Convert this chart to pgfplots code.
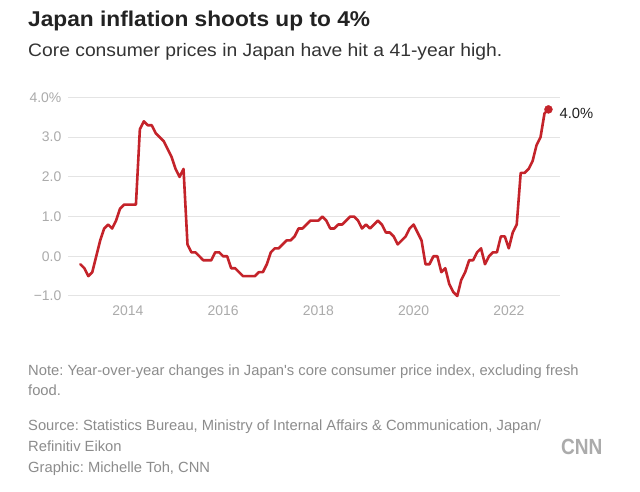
\documentclass[border=0pt]{standalone}
\usepackage{fontspec}
\setmainfont{Liberation Sans}
\newfontfamily\titlefont[FakeStretch=1.06]{Liberation Sans}
\newfontfamily\subfont[FakeStretch=1.07]{Liberation Sans}
\newfontfamily\notefont[FakeStretch=1.0]{Liberation Sans}
\newfontfamily\logofont[FakeStretch=0.87]{Liberation Sans}
\usepackage{pgfplots}
\usepackage{pgfplotstable}
\pgfplotsset{compat=1.18}
\definecolor{cnnred}{HTML}{C4232A}
\definecolor{tickgray}{HTML}{ABABAB}
\definecolor{notegray}{HTML}{8C8C8C}
\definecolor{gridgray}{HTML}{E4E4E4}
\definecolor{titlecol}{HTML}{222222}
\definecolor{subcol}{HTML}{333333}
\frenchspacing

\pgfplotstableread{
x y
2013.0000 -0.2
2013.0833 -0.3
2013.1667 -0.5
2013.2500 -0.4
2013.3333 0.0
2013.4167 0.4
2013.5000 0.7
2013.5833 0.8
2013.6667 0.7
2013.7500 0.9
2013.8333 1.2
2013.9167 1.3
2014.0000 1.3
2014.0833 1.3
2014.1667 1.3
2014.2500 3.2
2014.3333 3.4
2014.4167 3.3
2014.5000 3.3
2014.5833 3.1
2014.6667 3.0
2014.7500 2.9
2014.8333 2.7
2014.9167 2.5
2015.0000 2.2
2015.0833 2.0
2015.1667 2.2
2015.2500 0.3
2015.3333 0.1
2015.4167 0.1
2015.5000 0.0
2015.5833 -0.1
2015.6667 -0.1
2015.7500 -0.1
2015.8333 0.1
2015.9167 0.1
2016.0000 0.0
2016.0833 0.0
2016.1667 -0.3
2016.2500 -0.3
2016.3333 -0.4
2016.4167 -0.5
2016.5000 -0.5
2016.5833 -0.5
2016.6667 -0.5
2016.7500 -0.4
2016.8333 -0.4
2016.9167 -0.2
2017.0000 0.1
2017.0833 0.2
2017.1667 0.2
2017.2500 0.3
2017.3333 0.4
2017.4167 0.4
2017.5000 0.5
2017.5833 0.7
2017.6667 0.7
2017.7500 0.8
2017.8333 0.9
2017.9167 0.9
2018.0000 0.9
2018.0833 1.0
2018.1667 0.9
2018.2500 0.7
2018.3333 0.7
2018.4167 0.8
2018.5000 0.8
2018.5833 0.9
2018.6667 1.0
2018.7500 1.0
2018.8333 0.9
2018.9167 0.7
2019.0000 0.8
2019.0833 0.7
2019.1667 0.8
2019.2500 0.9
2019.3333 0.8
2019.4167 0.6
2019.5000 0.6
2019.5833 0.5
2019.6667 0.3
2019.7500 0.4
2019.8333 0.5
2019.9167 0.7
2020.0000 0.8
2020.0833 0.6
2020.1667 0.4
2020.2500 -0.2
2020.3333 -0.2
2020.4167 0.0
2020.5000 0.0
2020.5833 -0.4
2020.6667 -0.3
2020.7500 -0.7
2020.8333 -0.9
2020.9167 -1.0
2021.0000 -0.6
2021.0833 -0.4
2021.1667 -0.1
2021.2500 -0.1
2021.3333 0.1
2021.4167 0.2
2021.5000 -0.2
2021.5833 0.0
2021.6667 0.1
2021.7500 0.1
2021.8333 0.5
2021.9167 0.5
2022.0000 0.2
2022.0833 0.6
2022.1667 0.8
2022.2500 2.1
2022.3333 2.1
2022.4167 2.2
2022.5000 2.4
2022.5833 2.8
2022.6667 3.0
2022.7500 3.6
2022.8333 3.7
}\cpidata

\begin{document}
\begin{tikzpicture}[x=1bp,y=1bp]
\useasboundingbox (0,0) rectangle (640,492);
\fill[white] (0,0) rectangle (640,492);
\begin{axis}[
  at={(68bp,196bp)}, anchor=south west,
  scale only axis, width=492bp, height=198.5bp,
  xmin=2012.74, xmax=2023.076, ymin=-1, ymax=4,
  axis line style={draw=none},
  major tick length=0pt,
  xtick={2014,2016,2018,2020,2022},
  xticklabels={2014,2016,2018,2020,2022},
  ytick={-1,0,1,2,3,4},
  yticklabels={{−1.0},{0.0},{1.0},{2.0},{3.0},{4.0\%}},
  ymajorgrids,
  major grid style={gridgray, line width=1bp},
  tick label style={font=\fontsize{14}{14}\selectfont, text=tickgray},
  xticklabel style={anchor=north, inner sep=0pt, yshift=-10bp},
  yticklabel style={anchor=east, inner sep=0pt, xshift=-6.5bp},
  /pgf/number format/assume math mode=true,
  clip=false,
]
\addplot[cnnred, line width=2.6bp, line join=round, line cap=round] table[x=x,y=y] {\cpidata};
\addplot[cnnred, only marks, mark=*, mark size=4bp, mark options={draw=cnnred, fill=cnnred}] coordinates {(2022.8333,3.7)};
\node[anchor=west, inner sep=0pt, xshift=11bp, yshift=-4bp, text=titlecol, font=\fontsize{14.8}{14.8}\selectfont] at (axis cs:2022.8333,3.7) {4.0\%};
\end{axis}

\node[anchor=base west, inner sep=0pt, text=titlecol] at (28,465.3) {\titlefont\bfseries\fontsize{21.5}{22}\selectfont Japan inflation shoots up to 4\%};
\node[anchor=base west, inner sep=0pt, text=subcol] at (28,435.7) {\subfont\fontsize{18.1}{20}\selectfont Core consumer prices in Japan have hit a 41-year high.};

\begin{scope}[every node/.style={anchor=base west, inner sep=0pt, text=notegray, font=\notefont\fontsize{14.8}{16}\selectfont}]
\node at (28,116) {Note: Year-over-year changes in Japan's core consumer price index, excluding fresh};
\node at (28,96) {food.};
\node at (28,61) {Source: Statistics Bureau, Ministry of Internal Affairs \& Communication, Japan/};
\node at (28,40) {Refinitiv Eikon};
\node at (28,19) {Graphic: Michelle Toh, CNN};
\end{scope}
\node[anchor=base west, inner sep=0pt, text=black!33] at (561,37) {\logofont\bfseries\fontsize{22}{22}\selectfont CNN};
\end{tikzpicture}
\end{document}
